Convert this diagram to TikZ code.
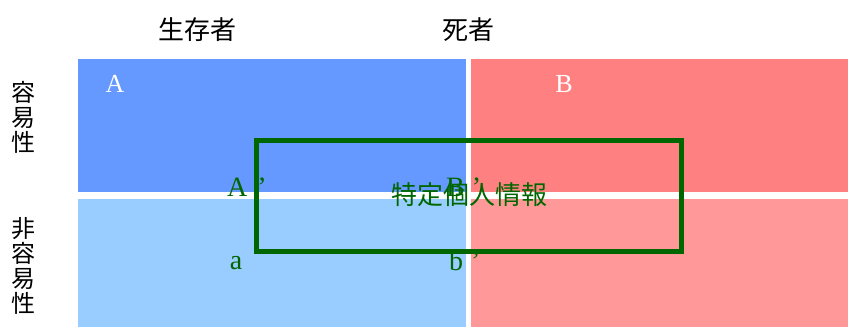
\documentclass[tikz,border=0pt]{standalone}
\usepackage{fontspec}
\setmainfont{Liberation Serif}
\newfontfamily\cjk{Noto Sans CJK JP}
\definecolor{blueA}{HTML}{6699FF}
\definecolor{redB}{HTML}{FF8080}
\definecolor{bluea}{HTML}{99CCFF}
\definecolor{redb}{HTML}{FF9999}
\definecolor{grn}{HTML}{006600}
\tikzset{
  cell/.style={inner sep=0pt, outer sep=0pt, minimum width=388pt, minimum height=133pt},
  cjklab/.style={font=\cjk\fontsize{24}{25}\selectfont, inner sep=0pt, align=center},
  whitelab/.style={text=white, font=\fontsize{26}{26}\selectfont, inner sep=0pt, anchor=base},
  grnlab/.style={text=grn, font=\fontsize{28}{28}\selectfont, inner sep=0pt, anchor=base west},
}
\begin{document}
\begin{tikzpicture}[x=1pt,y=-1pt]
\useasboundingbox (0,0) rectangle (848,327);
\node[cell, fill=blueA] (tl) at (272,125.5) {};
\node[cell, fill=redB, minimum width=377pt] (tr) at (659.5,125.5) {};
\node[cell, fill=bluea, minimum height=128pt] (bl) at (272,263) {};
\node[cell, fill=redb, minimum width=377pt, minimum height=128pt] (br) at (659.5,263) {};
\node[cjklab, font=\cjk\fontsize{26}{26}\selectfont] (alive) at (197,30) {生存者};
\node[cjklab, font=\cjk\fontsize{26}{26}\selectfont] (dead) at (468,30) {死者};
\node[cjklab] (easy) at (24,117) {容\\易\\性};
\node[cjklab] (noneasy) at (24,266) {非\\容\\易\\性};
\node[whitelab] (A) at (115,92) {A};
\node[whitelab] (B) at (564,92) {B};
\node[draw=grn, line width=5pt, inner sep=0pt, minimum width=425pt, minimum height=111pt] (pi) at (469,195.5) {};
\node[grnlab] (A2) at (227,196) {A\hspace{10pt}’};
\node[grnlab] (B2) at (446,196) {B\hspace{7pt}’};
\node[grnlab, anchor=base] (a) at (236,269) {a};
\node[grnlab] (b2) at (449,270) {b\hspace{8pt}’};
\node[text=grn, font=\cjk\fontsize{26}{26}\selectfont, inner sep=0pt] (pilab) at (469,195) {特定個人情報};
\end{tikzpicture}
\end{document}
